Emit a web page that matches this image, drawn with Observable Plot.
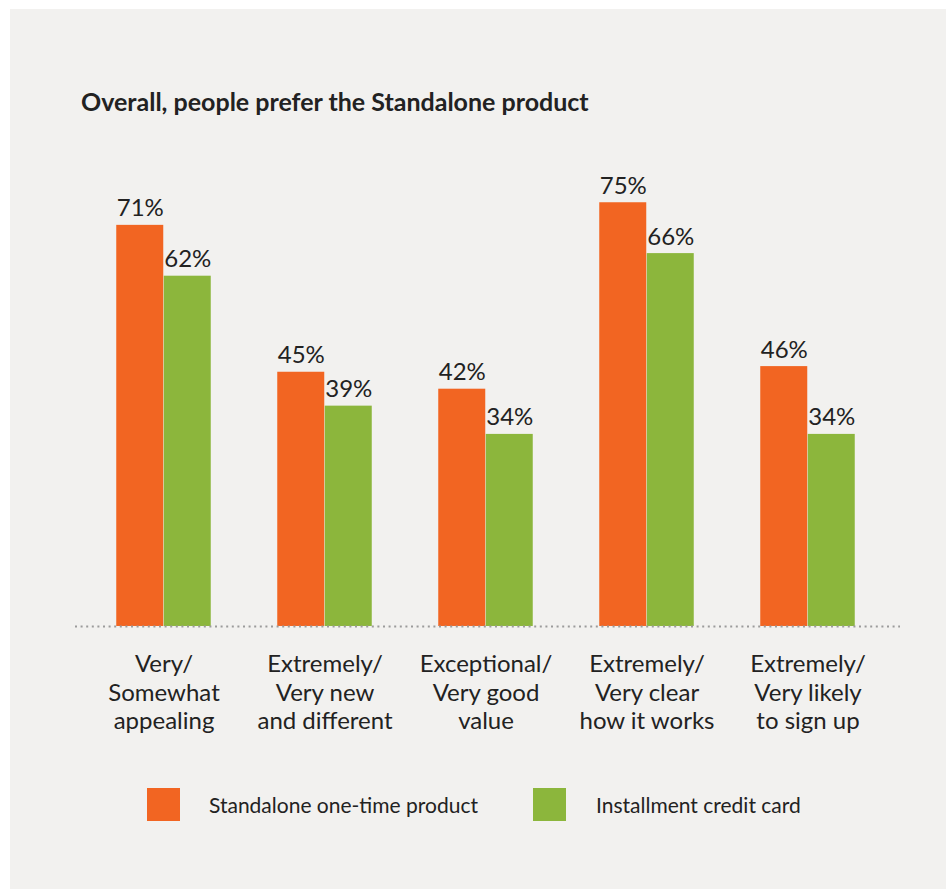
<!DOCTYPE html>
<html>
<head>
<meta charset="utf-8">
<script src="https://cdn.jsdelivr.net/npm/d3@7"></script>
<script src="https://cdn.jsdelivr.net/npm/@observablehq/plot@0.6"></script>
<style>
  html, body { margin: 0; padding: 0; background: #ffffff; }
  body { width: 946px; height: 889px; position: relative; overflow: hidden; font-family: Lato, "Open Sans", sans-serif; color: #222; }
  #panel { position: absolute; left: 10px; top: 9px; width: 936px; height: 880px; background: #f2f1ef; }
  #title { position: absolute; left: 71px; top: 79px; font-size: 25px; font-weight: 700; line-height: 26px; white-space: nowrap; color: #222; }
  #chart { position: absolute; left: 0; top: 131px; }
  #legend { position: absolute; top: 779px; left: 0; width: 936px; height: 33px; }
  .sw { position: absolute; top: 0; width: 33px; height: 33px; }
  .lt { position: absolute; top: 0; font-size: 21px; line-height: 33px; white-space: nowrap; color: #222; }
</style>
</head>
<body>
<div id="panel">
  <div id="title">Overall, people prefer the Standalone product</div>
  <div id="chart"></div>
  <div id="legend"></div>
</div>
<script>
const categories = [
  "Very/\nSomewhat\nappealing",
  "Extremely/\nVery new\nand different",
  "Exceptional/\nVery good\nvalue",
  "Extremely/\nVery clear\nhow it works",
  "Extremely/\nVery likely\nto sign up"
];
const standalone = [71, 45, 42, 75, 46];
const installment = [62, 39, 34, 66, 34];
const seriesNames = ["Standalone one-time product", "Installment credit card"];
const seriesColors = ["#f26522", "#8cb63c"];

const rows = categories.map((c, i) => ({category: c, standalone: standalone[i], installment: installment[i]}));

const chart = Plot.plot({
  width: 936,
  height: 620,
  marginTop: 34,
  marginBottom: 134,
  marginLeft: 65,
  marginRight: 46,
  style: {background: "transparent", color: "#222", fontFamily: "Lato, 'Open Sans', sans-serif", overflow: "visible"},
  x: {domain: categories, paddingInner: 0, paddingOuter: 0.0542, align: 0.41, axis: null},
  y: {domain: [0, 80], axis: null},
  marks: [
    Plot.barY(rows, {x: "category", y: "standalone", fill: seriesColors[0], insetLeft: 33.25, insetRight: 80.75}),
    Plot.barY(rows, {x: "category", y: "installment", fill: seriesColors[1], insetLeft: 80.75, insetRight: 33.25}),
    Plot.ruleY([0], {stroke: "#9b9b9b", strokeWidth: 2, strokeDasharray: "2 3.6"}),
    Plot.text(rows, {x: "category", y: "standalone", text: d => d.standalone + "%", dx: -23.75, dy: -9, lineAnchor: "bottom", fontSize: 24, fill: "#222"}),
    Plot.text(rows, {x: "category", y: "installment", text: d => d.installment + "%", dx: 23.75, dy: -9, lineAnchor: "bottom", fontSize: 24, fill: "#222"}),
    Plot.axisX({domain: categories, tickSize: 0, tickPadding: 26, fontSize: 24, lineHeight: 1.17, fill: "#222", label: null, tickFormat: d => d})
  ]
});
document.getElementById("chart").appendChild(chart);

const legend = document.getElementById("legend");
const swX = [137, 523];
const txX = [199, 586];
seriesNames.forEach((name, i) => {
  const sw = document.createElement("div");
  sw.className = "sw";
  sw.style.left = swX[i] + "px";
  sw.style.background = seriesColors[i];
  legend.appendChild(sw);
  const t = document.createElement("div");
  t.className = "lt";
  t.style.left = txX[i] + "px";
  t.textContent = name;
  legend.appendChild(t);
});
</script>
</body>
</html>
